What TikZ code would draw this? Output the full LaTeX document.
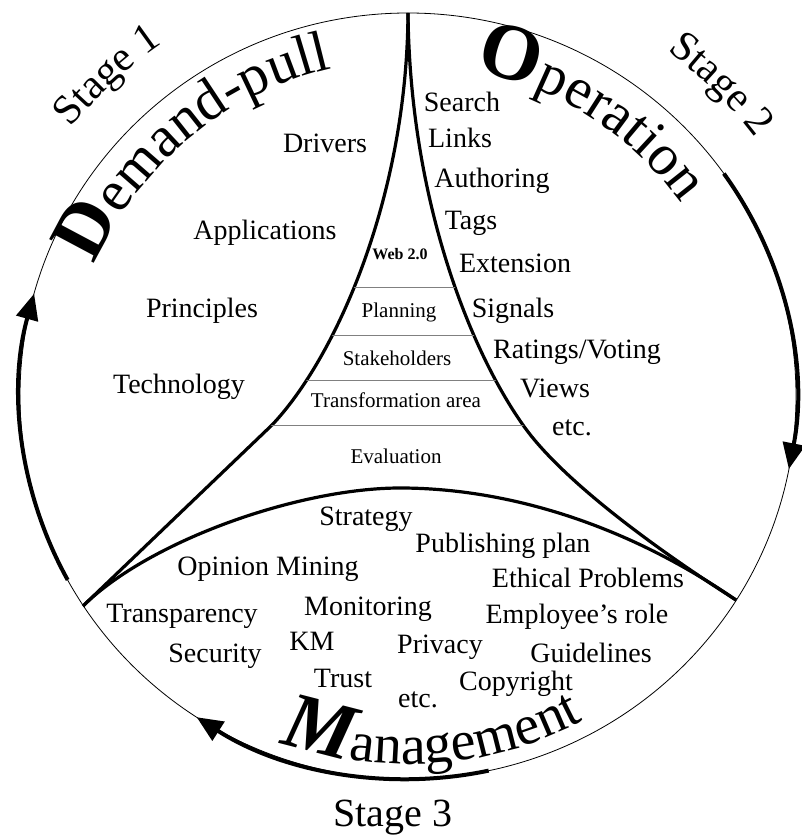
\documentclass[tikz,border=0pt]{standalone}
\usepackage{fontspec}
\setmainfont{Liberation Serif}
\usetikzlibrary{arrows.meta,decorations.text}
\newcommand{\fsz}[1]{\fontsize{#1}{#1}\selectfont}

\begin{document}
\begin{tikzpicture}[x=1pt, y=1pt,
  rim/.style={line width=0.8pt},
  stagearrow/.style={line width=4pt, -{Triangle[length=26pt,width=22pt]}},
  divider/.style={line width=3.2pt},
  band/.style={gray, line width=0.9pt},
  item/.style={font=\fsz{28}, anchor=base, inner sep=0pt},
  layer/.style={font=\fsz{21}, anchor=base, inner sep=0pt}]
 % Nền trắng và khung
 \useasboundingbox (-408,-442) rectangle (393,396);
 \fill[white] (-408,-442) rectangle (393,396);
 \coordinate (top) at (0,383);
 \coordinate (lft) at (-325,-210);
 \coordinate (rgt) at (328,-204);
 \coordinate (mid) at (-8,-92);
 % Vòng tròn ngoài và ba mũi tên
 \draw[rim] (0,0) ellipse [x radius=388, y radius=383];
 \draw[stagearrow] (208.7:388 and 383) arc[start angle=208.7, end angle=164.5, x radius=388, y radius=383];
 \draw[stagearrow] (35.5:388 and 383) arc[start angle=35.5, end angle=-11, x radius=388, y radius=383];
 \draw[stagearrow] (282:388 and 383) arc[start angle=282, end angle=237, x radius=388, y radius=383];
 % Các đường chia vùng
 \draw[divider] (top) .. controls (-1,196) and (-74,36) .. (-136,-29) -- (lft);
 \draw[divider] (top) .. controls (2,196) and (62,46) .. (115,-29) .. controls (150,-79) and (234,-144) .. (rgt);
 \draw[divider] (lft) .. controls (-258,-144) and (-108,-92) .. (mid) .. controls (92,-92) and (212,-124) .. (rgt);
 % Các tầng ở giữa
 \begin{scope}
  \clip (top) .. controls (-1,196) and (-74,36) .. (-136,-29) -- (lft) .. controls (-258,-144) and (-108,-92) .. (mid) .. controls (92,-92) and (212,-124) .. (rgt) .. controls (234,-144) and (150,-79) .. (115,-29) .. controls (62,46) and (2,196) .. (top) -- cycle;
  \foreach \y in {109,61,16,-29} \draw[band] (-200,\y) -- (200,\y);
 \end{scope}
 \node[font=\fsz{16}\bfseries, anchor=base, inner sep=0pt] (web) at (-8,136) {Web 2.0};
 \node[layer] (plan) at (-9,78) {Planning};
 \node[layer] (stake) at (-11,31) {Stakeholders};
 \node[layer] (trans) at (-12,-11) {Transformation area};
 \node[layer] (eval) at (-12,-67) {Evaluation};
 % Tiêu đề cong
 \path[decorate, decoration={text along path, text align=center,
   text={|\fsz{77}\bfseries|D|\fsz{58}\mdseries|emand-pull}}]
   (172:340 and 336) arc[start angle=172, end angle=88, x radius=340, y radius=336];
 \path[decorate, decoration={text along path, text align=center,
   text={|\fsz{80}\bfseries|O|\fsz{58}\mdseries|peration}}]
   (99:336 and 332) arc[start angle=99, end angle=15, x radius=336, y radius=332];
 \path[decorate, decoration={text along path, text align=center,
   text={|\fsz{80}\bfseries\itshape|M|\fsz{56}\mdseries\upshape|anagement}}]
   (228:373 and 368) arc[start angle=228, end angle=320, x radius=373, y radius=368];
 \path[decorate, decoration={text along path, text align=center, text={|\fsz{42}|Stage 1}}]
   (165:432 and 428) arc[start angle=165, end angle=101, x radius=432, y radius=428];
 \path[decorate, decoration={text along path, text align=center, text={|\fsz{42}|Stage 2}}]
   (77:434 and 430) arc[start angle=77, end angle=13, x radius=434, y radius=430];
 \node[font=\fsz{40}, anchor=base, inner sep=0pt] (stage3) at (-15,-430) {Stage 3};
 % Vùng Demand-pull
 \node[item] (drivers) at (-83,243) {Drivers};
 \node[item] (apps) at (-143,156) {Applications};
 \node[item] (princ) at (-206,79) {Principles};
 \node[item] (tech) at (-229,3) {Technology};
 % Vùng Operation
 \node[item] (search) at (54,284) {Search};
 \node[item] (links) at (52,248) {Links};
 \node[item] (author) at (84,208) {Authoring};
 \node[item] (tags) at (63,166) {Tags};
 \node[item] (ext) at (107,123) {Extension};
 \node[item] (signals) at (105,78) {Signals};
 \node[item] (rating) at (169,38) {Ratings/Voting};
 \node[item] (views) at (147,-1) {Views};
 \node[item] (etcop) at (164,-39) {etc.};
 % Vùng Management
 \node[item] (strat) at (-42,-129) {Strategy};
 \node[item] (publ) at (95,-156) {Publishing plan};
 \node[item] (opin) at (-140,-179) {Opinion Mining};
 \node[item] (ethic) at (180,-191) {Ethical Problems};
 \node[item] (transp) at (-226,-226) {Transparency};
 \node[item] (monit) at (-40,-219) {Monitoring};
 \node[item] (empl) at (169,-227) {Employee’s role};
 \node[item] (km) at (-96,-254) {KM};
 \node[item] (priv) at (32,-257) {Privacy};
 \node[item] (secur) at (-193,-266) {Security};
 \node[item] (guide) at (183,-266) {Guidelines};
 \node[item] (trust) at (-65,-291) {Trust};
 \node[item] (copy) at (108,-294) {Copyright};
 \node[item] (etcma) at (10,-311) {etc.};
\end{tikzpicture}
\end{document}
